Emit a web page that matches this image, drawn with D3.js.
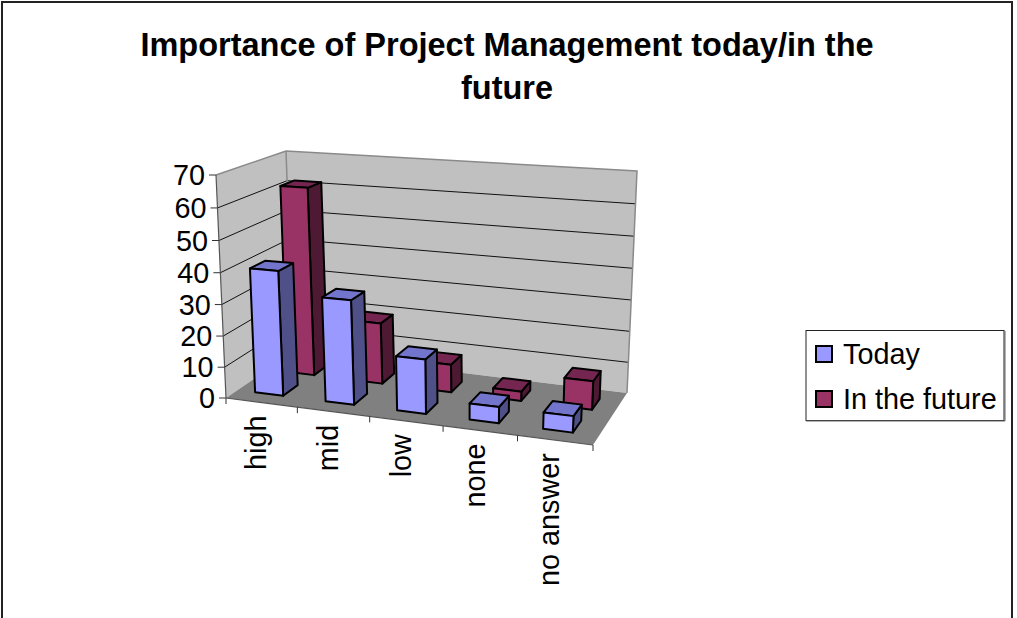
<!DOCTYPE html>
<html><head><meta charset="utf-8">
<style>html,body{margin:0;padding:0;background:#fff}svg{display:block}text{font-family:"Liberation Sans",Arial,sans-serif;fill:#000}</style>
<script src="https://cdn.jsdelivr.net/npm/d3@7/dist/d3.min.js"></script>
</head><body><svg id="c" width="1017" height="618"></svg>
<script>
const categories=["high","mid","low","none","no answer"];
const today=[40,33,17,5,5];
const future=[62,20,9,3,9];
const yTicks=[0,10,20,30,40,50,60,70];
const titleLines=["Importance of Project Management today/in the","future"];
const seriesNames=["Today","In the future"];
const colors={today:{f:"#9999FF",s:"#4F5088",t:"#7375CC"},future:{f:"#993366",s:"#4E1A33",t:"#742650"}};

const svg=d3.select("#c");
svg.append("rect").attr("x",2).attr("y",2).attr("width",1010).attr("height",630).attr("fill","#fff").attr("stroke","#222").attr("stroke-width",2);

function homography(a,b,c,d){
  const dx1=b[0]-c[0],dx2=d[0]-c[0],sx=a[0]-b[0]+c[0]-d[0];
  const dy1=b[1]-c[1],dy2=d[1]-c[1],sy=a[1]-b[1]+c[1]-d[1];
  const det=dx1*dy2-dx2*dy1;
  const g=(sx*dy2-dx2*sy)/det,h=(dx1*sy-sx*dy1)/det;
  const A=b[0]-a[0]+g*b[0],B=d[0]-a[0]+h*d[0],C=a[0];
  const D=b[1]-a[1]+g*b[1],E=d[1]-a[1]+h*d[1],F=a[1];
  return (u,v)=>{const w=g*u+h*v+1;return [(A*u+B*v+C)/w,(D*u+E*v+F)/w];};
}
const floorH=homography([226,398],[593,445],[627,393],[293,352]);
const topH=homography([216,175],[607,200],[637,171],[286,151]);
const uS=d3.scaleLinear().domain([0,categories.length]).range([0,1]);
const zS=d3.scaleLinear().domain([0,70]).range([0,1]);
function P(u,v,z){
  const a=floorH(uS(u),v),b=topH(uS(u),v);
  const t0=zS(z),k=1.04,t=t0/(t0+k*(1-t0));
  return [a[0]+(b[0]-a[0])*t,a[1]+(b[1]-a[1])*t];
}
const line=d3.line();
const poly=(pts,fill,stroke,sw)=>svg.append("path").attr("d",line(pts)+"Z").attr("fill",fill).attr("stroke",stroke).attr("stroke-width",sw).attr("stroke-linejoin","round");
const seg=(a,b,stroke,sw)=>svg.append("line").attr("x1",a[0]).attr("y1",a[1]).attr("x2",b[0]).attr("y2",b[1]).attr("stroke",stroke).attr("stroke-width",sw);
const n=categories.length;

poly([P(0,0,0),P(0,0,70),P(0,1,70),P(0,1,0)],"#C0C0C0","none",0);
poly([P(0,1,0),P(0,1,70),P(n,1,70),P(n,1,0)],"#C0C0C0","none",0);
yTicks.slice(1,-1).forEach(z=>{
  svg.append("path").attr("d",line([P(0,0,z),P(0,1,z),P(n,1,z)])).attr("fill","none").attr("stroke","#111").attr("stroke-width",1);
});
poly([P(0,0,0),P(n,0,0),P(n,1,0),P(0,1,0)],"#808080","none",0);
svg.append("path").attr("d",line([P(0,0,70),P(0,1,70),P(n,1,70),P(n,1,0)])).attr("fill","none").attr("stroke","#8a8a8a").attr("stroke-width",1.5);
seg(P(0,1,70),P(0,1,0),"#8a8a8a",1.5);

seg(P(0,0,0),P(0,0,70),"#555",1.2);
seg(P(0,0,0),P(n,0,0),"#555",1.2);
yTicks.forEach(z=>{
  const p=P(0,0,z);
  seg([p[0]-7,p[1]],p,"#333",1);
  svg.append("text").attr("x",p[0]-11).attr("y",p[1]+10).attr("text-anchor","end").style("font-size","28.8px").text(z);
});
d3.range(0,n+1).forEach(i=>{const p=P(i,0,0);seg(p,[p[0],p[1]+6],"#333",1);});
categories.forEach((c,i)=>{
  const p=P(i+.5,0,0);
  svg.append("text").attr("transform",`translate(${p[0]-6},${p[1]+13}) rotate(-90)`).attr("text-anchor","end").attr("dy",".36em").style("font-size","28.8px").text(c);
});

function bar(u0,u1,v0,v1,z,c){
  poly([P(u1,v0,0),P(u1,v1,0),P(u1,v1,z),P(u1,v0,z)],c.s,"#000",2);
  poly([P(u0,v0,z),P(u1,v0,z),P(u1,v1,z),P(u0,v1,z)],c.t,"#000",2);
  poly([P(u0,v0,0),P(u1,v0,0),P(u1,v0,z),P(u0,v0,z)],c.f,"#000",2);
}
const bw=.2;
future.forEach((d,i)=>bar(i+.49-bw,i+.49+bw,.60,.82,d,colors.future));
today.forEach((d,i)=>bar(i+.45-bw,i+.45+bw,.16,.38,d,colors.today));

titleLines.forEach((t,i)=>svg.append("text").attr("x",507).attr("y",56+i*43).attr("text-anchor","middle").style("font-size","32.5px").style("font-weight","bold").text(t));

svg.append("rect").attr("x",806).attr("y",330.5).attr("width",198).attr("height",90).attr("fill","#fff").attr("stroke","#222").attr("stroke-width",1);
svg.append("path").attr("d","M806 421H1005V331").attr("fill","none").attr("stroke","#666").attr("stroke-width",1);
[colors.today.f,colors.future.f].forEach((f,i)=>{
  svg.append("rect").attr("x",816).attr("y",346+i*45).attr("width",16).attr("height",16).attr("fill",f).attr("stroke","#000").attr("stroke-width",2);
  svg.append("text").attr("x",843).attr("y",364+i*45).style("font-size","28.8px").text(seriesNames[i]);
});
</script></body></html>
